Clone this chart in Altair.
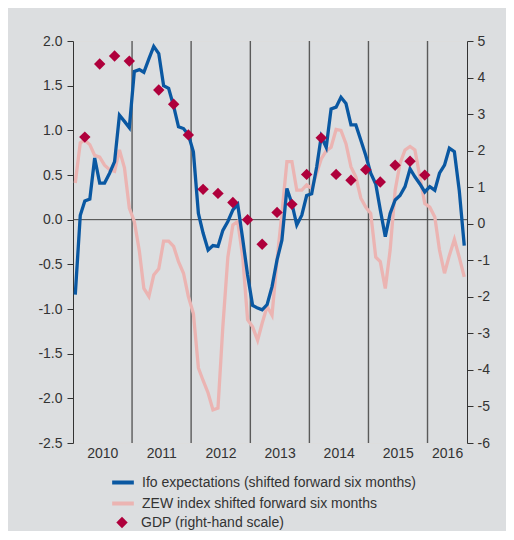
import altair as alt
import pandas as pd

# ---- data ----
ifo = [
    -0.84, 0.05, 0.21, 0.23, 0.69, 0.41, 0.41, 0.52, 0.65, 1.17, 1.10, 1.03,   # 2010
    1.66, 1.68, 1.65, 1.80, 1.94, 1.86, 1.50, 1.47, 1.27, 1.04, 1.02, 0.95,    # 2011
    0.76, 0.07, -0.15, -0.34, -0.29, -0.30, -0.12, -0.02, 0.11, 0.17, -0.22, -0.62,  # 2012
    -0.96, -0.99, -1.01, -0.95, -0.75, -0.45, -0.23, 0.35, 0.18, -0.06, 0.05, 0.27,  # 2013
    0.29, 0.59, 0.93, 0.81, 1.24, 1.26, 1.37, 1.30, 1.06, 1.06, 0.89, 0.72,    # 2014
    0.52, 0.40, 0.11, -0.19, 0.07, 0.22, 0.27, 0.37, 0.57, 0.48, 0.40, 0.31,   # 2015
    0.37, 0.33, 0.52, 0.61, 0.80, 0.76, 0.33, -0.29,                           # 2016
]
zew = [
    0.41, 0.86, 0.89, 0.84, 0.72, 0.70, 0.61, 0.56, 0.54, 0.78, 0.58, 0.13,    # 2010
    -0.02, -0.35, -0.77, -0.86, -0.62, -0.55, -0.24, -0.24, -0.30, -0.47, -0.60, -0.86,  # 2011
    -1.05, -1.66, -1.80, -1.94, -2.13, -2.11, -1.20, -0.42, -0.06, -0.02, -0.42, -1.12,  # 2012
    -1.20, -1.35, -1.16, -0.97, -1.07, -0.45, 0.07, 0.65, 0.65, 0.33, 0.33, 0.39,  # 2013
    0.35, 0.52, 0.68, 0.77, 0.81, 1.01, 1.00, 0.85, 0.59, 0.48, 0.24, 0.14,    # 2014
    0.07, -0.42, -0.47, -0.77, -0.34, 0.33, 0.63, 0.78, 0.82, 0.78, 0.48, 0.18,  # 2015
    0.14, 0.03, -0.34, -0.60, -0.40, -0.22, -0.42, -0.64,                      # 2016
]
gdp_dates = [
    "2010-03-15", "2010-06-15", "2010-09-15", "2010-12-15",
    "2011-06-15", "2011-09-15", "2011-12-15",
    "2012-03-15", "2012-06-15", "2012-09-15", "2012-12-15",
    "2013-03-15", "2013-06-15", "2013-09-15", "2013-12-15",
    "2014-03-15", "2014-06-15", "2014-09-15", "2014-12-15",
    "2015-03-15", "2015-06-15", "2015-09-15", "2015-12-15",
]
gdp = [
    2.37, 4.37, 4.59, 4.45,
    3.66, 3.27, 2.43,
    0.94, 0.83, 0.58, 0.11,
    -0.56, 0.31, 0.53, 1.35,
    2.35, 1.35, 1.19, 1.48,
    1.14, 1.60, 1.71, 1.33,
]
year_starts = ["2011-01-01", "2012-01-01", "2013-01-01", "2014-01-01", "2015-01-01", "2016-01-01"]
left_ticks = [-2.5, -2.0, -1.5, -1.0, -0.5, 0.0, 0.5, 1.0, 1.5, 2.0]
right_ticks = [-6, -5, -4, -3, -2, -1, 0, 1, 2, 3, 4, 5]

IFO = "Ifo expectations (shifted forward six months)"
ZEW = "ZEW index shifted forward six months"
GDP = "GDP (right-hand scale)"

months = [f"{y}-{m:02d}-15" for y in range(2010, 2017) for m in range(1, 13)][: len(ifo)]
df_ifo = pd.DataFrame({"date": months, "value": ifo, "series": IFO})
df_zew = pd.DataFrame({"date": months, "value": zew, "series": ZEW})
df_gdp = pd.DataFrame({"date": gdp_dates, "gdp": gdp, "label": GDP})
df_years = pd.DataFrame({"d": year_starts})
df_zero = pd.DataFrame({"v": [0.0]})

FONT = "Liberation Sans Narrow, Arial Narrow, Liberation Sans, Arial, sans-serif"
TXT = "#333333"

xscale = alt.Scale(
    type="utc",
    domain=[alt.DateTime(year=2010, month=1, date=1, utc=True),
            alt.DateTime(year=2016, month=9, date=1, utc=True)],
)
xaxis = alt.Axis(
    values=[alt.DateTime(year=y, month=7, date=1, utc=True) for y in range(2010, 2016)]
    + [alt.DateTime(year=2016, month=5, date=1, utc=True)],
    labelExpr="utcFormat(datum.value, '%Y')",
    domain=False, ticks=False, grid=False, labelPadding=3,
    labelFontSize=14, labelColor=TXT, labelFont=FONT, title=None,
)
x_line = alt.X("date:T", scale=xscale, axis=xaxis, title=None)

lscale = alt.Scale(domain=[-2.5, 2.0], nice=False, zero=False)
laxis = alt.Axis(
    orient="left", values=left_ticks, grid=False,
    labelExpr="replace(format(datum.value, '.1f'), '\u2212', '-')",
    domainColor=TXT, tickColor=TXT, tickSize=6, labelPadding=5,
    labelFontSize=14, labelColor=TXT, labelFont=FONT, title=None,
)
rscale = alt.Scale(domain=[-6, 5], nice=False, zero=False)
raxis = alt.Axis(
    orient="right", values=right_ticks, grid=False,
    labelExpr="replace(format(datum.value, 'd'), '\u2212', '-')",
    domainColor=TXT, tickColor=TXT, tickSize=6, labelPadding=4,
    labelFontSize=14, labelColor=TXT, labelFont=FONT, title=None,
)

color_scale = alt.Scale(domain=[IFO, ZEW], range=["#0a58a2", "#ebb4b2"])
line_legend = alt.Legend(
    orient="none", legendX=37, legendY=428.5, title=None,
    symbolType="stroke", symbolSize=470, symbolStrokeWidth=4,
    labelOffset=6, labelFontSize=14, labelColor=TXT, labelFont=FONT,
    labelLimit=500, rowPadding=0, padding=0,
)
gdp_legend = alt.Legend(
    orient="none", legendX=42, legendY=474.5, title=None,
    symbolSize=130, symbolFillColor="#af003c", symbolStrokeWidth=0,
    labelOffset=12, labelFontSize=14, labelColor=TXT, labelFont=FONT,
    labelLimit=500, padding=0,
)

years = alt.Chart(df_years).mark_rule(color="#5a5a5a", strokeWidth=1.4).encode(
    x=alt.X("d:T", scale=xscale, axis=xaxis, title=None)
)
zero = alt.Chart(df_zero).mark_rule(color="#444444", strokeWidth=1).encode(
    y=alt.Y("v:Q", scale=lscale, axis=laxis, title=None)
)
pink = alt.Chart(df_zew).mark_line(strokeWidth=3.3).encode(
    x=x_line,
    y=alt.Y("value:Q", scale=lscale, axis=laxis, title=None),
    color=alt.Color("series:N", scale=color_scale, legend=line_legend),
)
blue = alt.Chart(df_ifo).mark_line(strokeWidth=3.3).encode(
    x=x_line,
    y=alt.Y("value:Q", scale=lscale, axis=laxis, title=None),
    color=alt.Color("series:N", scale=color_scale, legend=line_legend),
)
left = alt.layer(years, zero, pink, blue)

right = alt.Chart(df_gdp).mark_point(filled=True, size=130, color="#af003c", opacity=1).encode(
    x=x_line,
    y=alt.Y("gdp:Q", scale=rscale, axis=raxis, title=None),
    shape=alt.Shape("label:N", scale=alt.Scale(domain=[GDP], range=["diamond"]), legend=gdp_legend),
)

chart = (
    alt.layer(left, right)
    .resolve_scale(y="independent")
    .properties(
        width=394, height=402,
        autosize=alt.AutoSizeParams(type="none"),
        padding={"left": 65, "top": 33, "right": 39, "bottom": 88},
        background="#dcdee0",
    )
    .configure_view(stroke=None)
    .configure(font=FONT)
)

chart.save("out.html", embed_options={"renderer": "svg", "actions": False})
